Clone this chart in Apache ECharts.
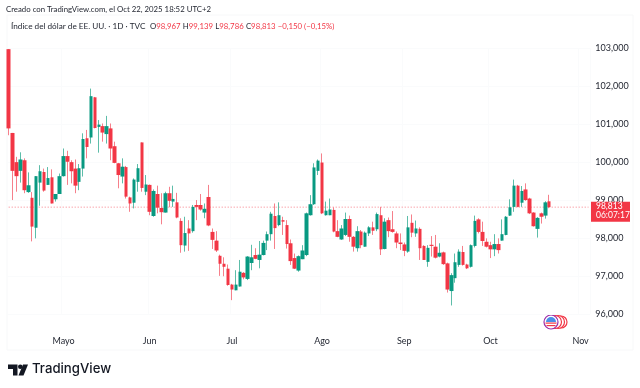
<!DOCTYPE html>
<html>
<head>
<meta charset="utf-8">
<style>html,body{margin:0;padding:0;background:#fff}#c{width:640px;height:388px}</style>
<script src="https://cdn.jsdelivr.net/npm/echarts@6/dist/echarts.min.js"></script>
</head>
<body>
<div id="c"></div>
<script>
const openVals = [102.98,100.77,100.0,99.77,100.05,99.21,99.06,98.27,99.46,99.74,
99.40,99.60,99.02,99.16,99.63,100.16,100.0,99.83,99.48,99.83,
100.63,100.65,101.71,100.93,100.95,100.74,100.89,100.42,99.97,99.62,
99.87,99.07,98.93,99.48,100.52,99.22,99.40,98.58,99.16,98.79,
98.67,99.18,98.96,98.94,98.45,97.80,98.25,98.18,98.87,98.87,
98.67,99.08,98.16,97.93,97.53,97.32,97.19,96.77,96.62,96.72,
97.08,96.92,97.34,97.55,97.42,97.55,97.93,98.10,98.58,98.34,
98.47,98.34,97.86,97.47,97.14,97.44,97.55,98.60,98.89,99.77,
99.99,98.60,98.60,98.74,98.18,97.96,98.08,98.50,98.03,97.73,
98.17,97.77,98.12,98.28,98.23,98.60,97.71,98.47,98.23,98.12,
97.88,97.83,97.64,98.40,98.12,98.24,97.79,97.37,97.82,97.77,
97.51,97.62,97.33,96.60,96.94,97.29,97.63,97.30,97.24,97.79,
98.49,98.16,97.90,97.81,97.70,97.84,97.93,98.08,98.59,98.82,
99.38,98.93,99.28,99.04,98.67,98.24,98.65,98.59,98.967];
const closeVals = [100.89,99.77,99.63,100.07,99.26,99.39,98.30,99.63,99.76,99.25,
99.58,98.91,99.16,99.63,100.16,100.01,99.76,99.38,99.84,100.61,
100.40,101.74,100.90,100.99,100.78,100.95,100.36,99.98,99.66,99.88,
99.09,98.91,99.54,99.84,99.32,99.41,98.69,99.24,98.80,98.68,
99.18,98.98,99.03,98.54,97.81,98.13,98.12,98.82,98.82,98.75,
98.77,98.33,97.95,97.67,97.32,97.24,96.76,96.64,96.77,97.11,
96.96,97.51,97.49,97.45,97.56,97.87,98.10,98.64,98.26,98.60,
98.43,97.84,97.39,97.19,97.52,97.67,98.65,98.89,99.86,100.04,
98.65,98.72,98.75,98.17,98.03,98.25,98.50,98.03,97.77,98.18,
97.81,98.14,98.28,98.19,98.63,97.70,98.43,98.18,98.16,97.88,
97.84,97.66,98.28,98.14,98.25,97.73,97.42,97.74,97.79,97.48,
97.61,97.31,96.64,97.02,97.36,97.64,97.29,97.20,97.81,98.45,
98.16,97.92,97.77,97.70,97.84,97.68,98.10,98.56,98.81,99.38,
98.82,99.24,99.0,98.65,98.31,98.53,98.56,98.94,98.813];
const lowVals = [100.71,99.0,99.22,99.46,99.18,99.19,97.91,97.99,98.85,99.22,
99.40,98.91,98.96,99.16,99.62,99.40,99.44,99.18,99.26,99.62,
100.10,100.49,100.89,100.25,100.54,100.49,100.05,99.97,99.31,99.44,
99.04,98.69,98.78,99.22,99.22,99.13,98.60,98.56,98.65,98.36,
98.67,98.81,98.82,98.52,97.61,97.64,97.66,98.14,98.47,98.72,
98.52,98.31,97.71,97.63,97.0,96.99,96.74,96.36,96.62,96.72,
96.91,96.89,97.15,97.44,97.20,97.54,97.68,97.93,97.71,98.31,
98.08,97.72,97.29,97.18,97.11,97.44,97.52,98.59,98.87,99.66,
98.63,98.59,98.60,98.15,98.02,97.95,98.05,97.90,97.64,97.64,
97.73,97.77,98.05,98.08,98.18,97.55,97.70,98.02,98.14,97.73,
97.68,97.52,97.61,98.02,98.03,97.42,97.42,97.24,97.51,97.46,
97.49,97.29,96.56,96.22,96.82,97.24,97.27,97.18,97.22,97.75,
98.12,97.79,97.75,97.47,97.52,97.59,97.93,98.07,98.58,98.69,
98.81,98.82,98.98,98.63,98.30,98.01,98.38,98.51,98.786];
const highVals = [102.98,100.77,100.14,100.26,100.10,99.73,99.21,99.63,99.92,99.83,
99.87,99.81,99.16,99.70,100.36,100.30,100.05,100.07,99.95,100.76,
100.85,101.94,101.72,101.11,101.02,101.22,101.02,100.54,99.98,100.10,
99.90,99.09,99.57,99.95,100.52,99.66,99.41,99.28,99.38,99.18,
99.22,99.35,99.38,99.19,98.52,98.56,98.47,98.87,99.0,99.16,
98.91,99.40,98.25,98.18,97.56,97.49,97.30,96.79,97.15,97.42,
97.10,97.52,97.82,97.73,97.92,97.93,98.17,98.69,98.91,98.94,
98.56,98.47,97.96,97.59,97.54,97.81,98.67,99.13,99.97,100.07,
100.23,98.96,99.04,98.81,98.47,98.34,98.67,98.59,98.05,98.31,
98.21,98.17,98.31,98.43,98.67,98.82,98.52,98.54,98.71,98.17,
98.12,97.88,98.58,98.62,98.46,98.28,97.81,97.81,98.05,98.08,
97.86,97.64,97.35,97.07,97.59,97.70,97.79,97.32,97.83,98.59,
98.52,98.43,97.99,97.90,98.10,97.99,98.49,98.58,99.02,99.54,
99.40,99.37,99.44,99.06,98.68,98.55,98.67,98.97,99.139];
const monthLabels = ['Mayo','Jun','Jul','Ago','Sep','Oct','Nov'];
const monthIndex = [14,36,57,80,101,123,146];
const slotCount = 149;
const lastPrice = 98.813;
const countdown = '06:07:17';
const createdLine = 'Creado con TradingView.com, el Oct 22, 2025 18:52 UTC+2';
const symbolLine = 'Índice del dólar de EE. UU. · 1D · TVC';
const ohlcLine = ['98,967','99,139','98,786','98,813','−0,150 (−0,15%)'];

const UP = '#089981', DOWN = '#f23645', FONT = 'Lato,sans-serif', INK = '#1e222d';
const categories = Array.from({length: slotCount}, (_, i) => {
  const k = monthIndex.indexOf(i);
  return k >= 0 ? monthLabels[k] : '';
});
const candles = openVals.map((o, i) => [o, closeVals[i], lowVals[i], highVals[i]]);
const bodies = openVals.map((o, i) => {
  const c = closeVals[i];
  return [o, c, Math.min(o, c), Math.max(o, c)];
});
const fmt = v => v.toFixed(3).replace('.', ',');

const chart = echarts.init(document.getElementById('c'), null, {renderer: 'canvas'});
chart.setOption({
  animation: false,
  backgroundColor: '#fff',
  title: [
    {text: createdLine, left: 6, top: 5.5, padding: 0, textStyle: {fontFamily: FONT, fontSize: 7.8, fontWeight: 'normal', color: INK}},
    {text: '{s|' + symbolLine + '}  {k|O}{r|' + ohlcLine[0] + '} {k|H}{r|' + ohlcLine[1] + '} {k|L}{r|' + ohlcLine[2] + '} {k|C}{r|' + ohlcLine[3] + '} {r|' + ohlcLine[4] + '}',
     left: 11, top: 22.5, padding: 0,
     textStyle: {fontWeight: 'normal', fontSize: 8, rich: {
       s: {fontFamily: FONT, fontSize: 8.2, fontWeight: 'normal', color: INK},
       k: {fontFamily: FONT, fontSize: 7.8, fontWeight: 'normal', color: INK},
       r: {fontFamily: FONT, fontSize: 7.8, fontWeight: 'normal', color: DOWN}
     }}}
  ],
  grid: {left: 6.74, width: slotCount * 3.917, top: 48.4, height: 265.4},
  xAxis: {
    type: 'category', data: categories, boundaryGap: true,
    axisLine: {show: false}, axisTick: {show: false},
    axisLabel: {interval: 0, margin: 23, fontFamily: FONT, fontSize: 9, color: INK, hideOverlap: false},
    splitLine: {show: true, interval: i => monthIndex.indexOf(i) >= 0, lineStyle: {color: '#fafbfc', width: 1}}
  },
  yAxis: {
    type: 'value', position: 'right', min: 96, max: 103, interval: 1, scale: true,
    axisLine: {show: false}, axisTick: {show: false},
    axisLabel: {formatter: fmt, margin: 5, fontFamily: FONT, fontSize: 9, color: INK},
    splitLine: {lineStyle: {color: '#fafbfc', width: 1}}
  },
  series: [{
    name: 'last',
    type: 'line',
    data: categories.map(() => lastPrice),
    showSymbol: false, silent: true, z: 1,
    lineStyle: {type: [1, 2], color: '#f23645', width: 1, opacity: 0.65}
  }, {
    name: 'wicks',
    type: 'candlestick',
    data: candles,
    barWidth: 1,
    z: 2,
    itemStyle: {color: '#5dbda9', color0: '#f6808b', borderColor: '#5dbda9', borderColor0: '#f6808b', borderWidth: 1}
  }, {
    name: 'bodies',
    type: 'candlestick',
    data: bodies,
    barWidth: 4,
    z: 3,
    itemStyle: {color: UP, color0: DOWN, borderColor: UP, borderColor0: DOWN, borderWidth: 0}
  }],
  graphic: [
    {type: 'rect', silent: true, z: -1, shape: {x: 7, y: 15, width: 626, height: 335}, style: {fill: 'none', stroke: '#f7f8f9', lineWidth: 1}},
    // TradingView logo
    {type: 'polygon', silent: true, shape: {points: [[8,364.5],[17.5,364.5],[17.5,375.5],[13,375.5],[13,369],[8,369]]}, style: {fill: '#131722'}},
    {type: 'circle', silent: true, shape: {cx: 20.3, cy: 366.8, r: 2.3}, style: {fill: '#131722'}},
    {type: 'polygon', silent: true, shape: {points: [[23,364.5],[28,364.5],[23.5,375.5],[18.5,375.5]]}, style: {fill: '#131722'}},
    {type: 'text', silent: true, style: {x: 32, y: 369.5, verticalAlign: 'middle', text: 'TradingView', fontFamily: 'Inter,sans-serif', fontSize: 13.2, fontWeight: 500, fill: '#131722'}},
    // event badge
    {type: 'circle', silent: true, shape: {cx: 561, cy: 322, r: 6}, style: {fill: '#fff', stroke: '#f23645', lineWidth: 1.2}},
    {type: 'circle', silent: true, shape: {cx: 558, cy: 322, r: 6.5}, style: {fill: '#fff', stroke: '#f23645', lineWidth: 1.2}},
    {type: 'circle', silent: true, shape: {cx: 555, cy: 322, r: 6.5}, style: {fill: '#fff', stroke: '#f23645', lineWidth: 1.2}},
    {type: 'circle', silent: true, shape: {cx: 551, cy: 322, r: 7}, style: {fill: '#fff', stroke: '#9c2ba8', lineWidth: 1.2}},
    {type: 'rect', silent: true, shape: {x: 546.5, y: 325, width: 9, height: 1.2}, style: {fill: '#f23645'}},
    {type: 'rect', silent: true, shape: {x: 545.5, y: 322.5, width: 11, height: 1.2}, style: {fill: '#f23645'}},
    {type: 'sector', silent: true, shape: {cx: 551, cy: 322, r: 5, r0: 0, startAngle: Math.PI, endAngle: 2 * Math.PI}, style: {fill: '#4a90e8'}}
  ]
});
// Price tag placed from the axis scale, above the axis labels.
const tagY = chart.convertToPixel({yAxisIndex: 0}, lastPrice);
const opt = chart.getOption();
chart.setOption({graphic: opt.graphic[0].elements.map(e => ({id: e.id})).concat([
  {type: 'rect', silent: true, z: 50, shape: {x: 591, y: tagY - 5.5, width: 39, height: 20}, style: {fill: DOWN}},
  {type: 'text', silent: true, z: 51, style: {x: 596, y: tagY - 0.5, verticalAlign: 'middle', text: fmt(lastPrice), fontFamily: FONT, fontSize: 8.5, fill: '#fff'}},
  {type: 'text', silent: true, z: 51, style: {x: 596, y: tagY + 8.5, verticalAlign: 'middle', text: countdown, fontFamily: FONT, fontSize: 8.5, fill: '#fff'}}
])});
</script>
</body>
</html>
